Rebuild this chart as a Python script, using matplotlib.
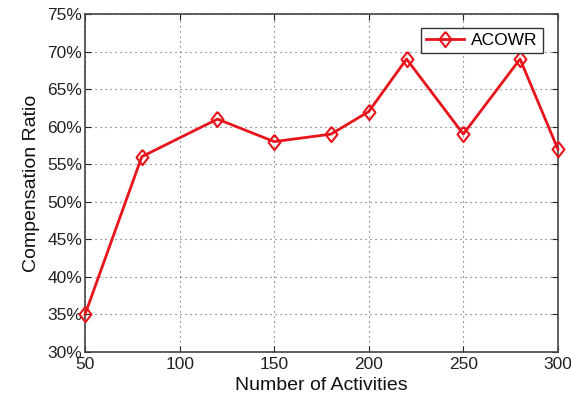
import matplotlib
matplotlib.use("Agg")
import matplotlib.pyplot as plt
from matplotlib.ticker import FuncFormatter

plt.rcParams['font.family'] = ['Liberation Sans', 'DejaVu Sans']

activities = [50, 80, 120, 150, 180, 200, 220, 250, 280, 300]
ratio = [35, 56, 61, 58, 59, 62, 69, 59, 69, 57]
series_name = 'ACOWR'
xticks = [50, 100, 150, 200, 250, 300]
yticks = [30, 35, 40, 45, 50, 55, 60, 65, 70, 75]

# diamond a little narrower than it is tall, like MATLAB's 'd'
diamond = [(0, 1), (0.78, 0), (0, -1), (-0.78, 0), (0, 1)]

fig = plt.figure(figsize=(5.71, 3.99), dpi=100)
ax = fig.add_axes([0.149, 0.118, 0.828, 0.847])

ax.plot(activities, ratio, '-', color='#e8141b', linewidth=2,
        marker=diamond, markersize=11, markerfacecolor='none',
        markeredgecolor='#e8141b', markeredgewidth=1.5, label=series_name,
        clip_on=False, zorder=3)

ax.set_xlim(50, 300)
ax.set_ylim(30, 75)
ax.set_xticks(xticks)
ax.set_yticks(yticks)
ax.yaxis.set_major_formatter(FuncFormatter(lambda v, p: '%d%%' % v))
ax.tick_params(direction='in', labelsize=12.5, colors='#222222', length=4,
               top=True, right=True)
ax.tick_params(axis='x', pad=4)
ax.tick_params(axis='y', pad=2)
ax.grid(True, linestyle=(0, (1, 3.5)), color='#555555', linewidth=0.8)
for s in ax.spines.values():
    s.set_color('#444444')
    s.set_linewidth(1.2)

ax.set_xlabel('Number of Activities', fontsize=14, labelpad=3, color='#111111')
ax.set_ylabel('Compensation Ratio', fontsize=14, labelpad=5, color='#111111')

leg = ax.legend(loc='upper right', fontsize=12.5, fancybox=False,
                edgecolor='#333333', handlelength=2.2, handletextpad=0.4,
                borderpad=0.3, framealpha=1, bbox_to_anchor=(0.986, 0.985))
leg.get_frame().set_linewidth(1.0)

fig.savefig('out.png', dpi=100)
